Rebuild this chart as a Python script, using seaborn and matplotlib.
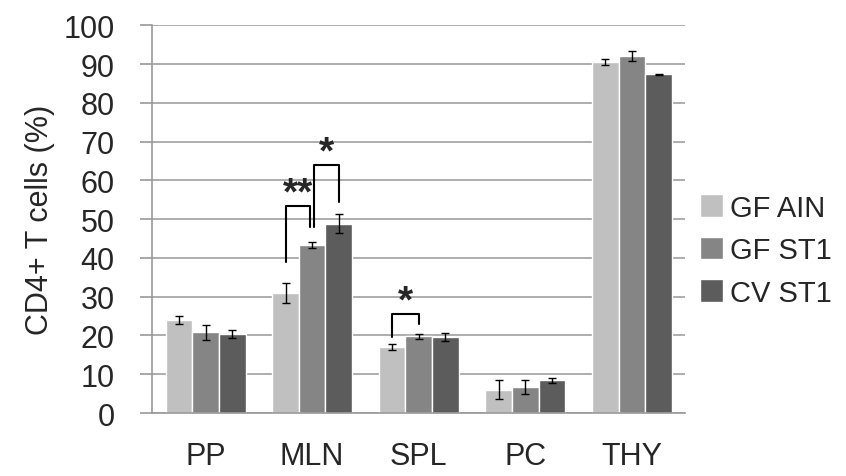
import pandas as pd
import matplotlib.pyplot as plt
import seaborn as sns

# values
tissues = ["PP", "MLN", "SPL", "PC", "THY"]
groups = ["GF AIN", "GF ST1", "CV ST1"]
gf_ain = [24.0, 31.0, 17.0, 6.0, 90.5]
gf_st1 = [20.8, 43.3, 19.8, 6.8, 92.0]
cv_st1 = [20.3, 48.8, 19.7, 8.4, 87.3]
gf_ain_err = [1.0, 2.5, 0.8, 2.4, 0.8]
gf_st1_err = [2.0, 0.7, 0.6, 1.8, 1.3]
cv_st1_err = [1.0, 2.5, 1.0, 0.6, 0.2]
colors = ["#c0c0c0", "#858585", "#5c5c5c"]

rows = []
for g, vals in zip(groups, [gf_ain, gf_st1, cv_st1]):
    for t, v in zip(tissues, vals):
        rows.append({"tissue": t, "group": g, "pct": v})
df = pd.DataFrame(rows)

sns.set_style("white")
plt.rcParams["font.family"] = ["Liberation Sans", "DejaVu Sans"]

fig = plt.figure(figsize=(8.46, 4.77), dpi=100)
ax = fig.add_axes([0.18, 0.132, 0.63, 0.813])

sns.barplot(data=df, x="tissue", y="pct", hue="group", order=tissues,
            hue_order=groups, palette=colors, width=0.75, gap=0,
            errorbar=None, saturation=1, ax=ax)

# error bars from the bar positions
for cont, vals, errs in zip(ax.containers, [gf_ain, gf_st1, cv_st1],
                            [gf_ain_err, gf_st1_err, cv_st1_err]):
    xs = [b.get_x() + b.get_width() / 2 for b in cont]
    ax.errorbar(xs, vals, yerr=errs, fmt="none", ecolor="black",
                elinewidth=1, capsize=3, capthick=1)

ax.set_ylim(0, 100)
ax.set_xlim(-0.5, 4.5)
ax.set_yticks(range(0, 101, 10))
ax.yaxis.grid(True, color="#a0a0a0", lw=1.2)
ax.set_axisbelow(True)
for s in ["top", "right"]:
    ax.spines[s].set_visible(False)
for s in ["left", "bottom"]:
    ax.spines[s].set_color("#999999")
    ax.spines[s].set_linewidth(1.2)

ax.set_xticks([i - 0.5 for i in range(6)], minor=True)
ax.tick_params(axis="x", which="major", length=0, pad=20, labelsize=22)
ax.tick_params(axis="x", which="minor", length=9, color="#999999", width=1.2)
ax.tick_params(axis="y", length=9, color="#999999", width=1.2, pad=18,
               labelsize=22, left=True)
ax.set_xlabel("")
ax.set_ylabel("CD4+ T cells (%)", fontsize=22, labelpad=6)


def bracket(x1, x2, y1, y2, top, label):
    ax.plot([x1, x1, x2, x2], [y1, top, top, y2], color="black", lw=1.5)
    ax.text((x1 + x2) / 2, top - 1.5, label, ha="center", va="bottom",
            fontsize=28, fontweight="bold")


b = ax.containers
cx = lambda i, j: b[i][j].get_x() + b[i][j].get_width() / 2
bracket(cx(0, 1), cx(1, 1) - 0.02, 39, 48, 53.5, "**")
bracket(cx(1, 1) + 0.02, cx(2, 1), 48, 54.5, 64, "*")
bracket(cx(0, 2), cx(1, 2), 19.6, 23, 25.5, "*")

ax.legend(loc="center left", bbox_to_anchor=(1.005, 0.42), frameon=False,
          fontsize=21, handlelength=0.8, handleheight=0.8, handletextpad=0.25,
          labelspacing=0.5, borderaxespad=0)

fig.savefig("out.png", dpi=100)
